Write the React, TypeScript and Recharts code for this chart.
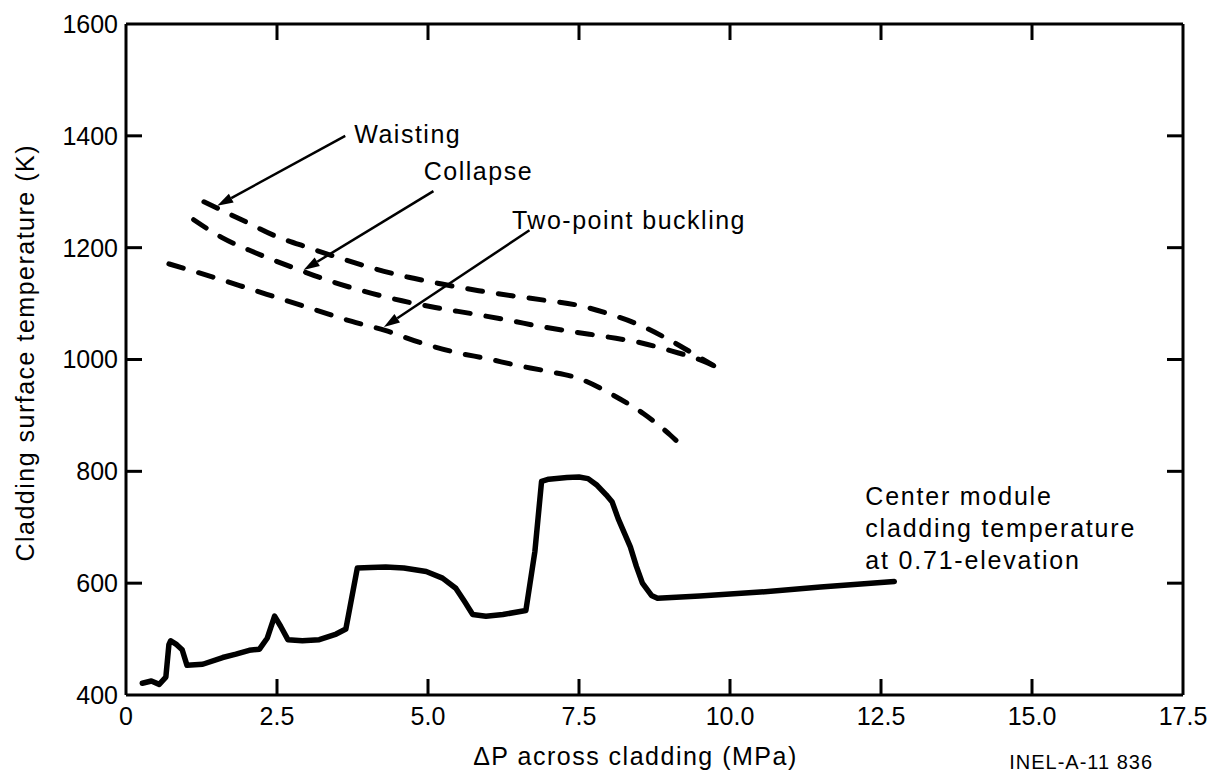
import React from 'react';
import { LineChart, Line, XAxis, YAxis, ReferenceLine, ReferenceDot, Label } from 'recharts';

const FONT = '"Liberation Sans", Arial, Helvetica, sans-serif';

const xTicks = [0, 2.5, 5, 7.5, 10, 12.5, 15, 17.5];
const yTicks = [400, 600, 800, 1000, 1200, 1400, 1600];
const xInner = [2.5, 5, 7.5, 10, 12.5, 15];
const yInner = [600, 800, 1000, 1200, 1400];

// center module cladding temperature, 0.71 elevation (MPa, K)
const centerModule = [
  [0.27, 421], [0.42, 425], [0.55, 419], [0.66, 432], [0.71, 490], [0.74, 497],
  [0.84, 490], [0.93, 481], [1.01, 453], [1.27, 455], [1.6, 467], [1.82, 473],
  [2.04, 480], [2.21, 482], [2.34, 502], [2.46, 541], [2.56, 523], [2.68, 499],
  [2.92, 497], [3.2, 499], [3.48, 509], [3.64, 518], [3.83, 627], [4.05, 628],
  [4.3, 629], [4.6, 627], [4.97, 621], [5.24, 609], [5.46, 591], [5.6, 568],
  [5.74, 544], [5.96, 541], [6.24, 544], [6.62, 551], [6.77, 657], [6.88, 782],
  [7.0, 786], [7.3, 789], [7.5, 790], [7.65, 787], [7.8, 775], [7.95, 758],
  [8.05, 745], [8.15, 715], [8.25, 690], [8.35, 665], [8.45, 630], [8.55, 600],
  [8.7, 578], [8.8, 573], [9.5, 577], [10.5, 584], [11.5, 593], [12.72, 603],
];

const waisting = [
  [1.29, 1282], [1.95, 1248], [2.47, 1221], [3.02, 1200], [3.58, 1180], [4.13, 1162],
  [4.68, 1147], [5.23, 1135], [5.84, 1123], [6.39, 1114], [6.93, 1106], [7.48, 1097],
  [8.04, 1080], [8.52, 1061], [8.98, 1036], [9.54, 1001], [9.73, 989],
];

const collapse = [
  [1.12, 1250], [1.59, 1218], [2.14, 1191], [2.75, 1165], [3.36, 1141], [3.91, 1123],
  [4.57, 1105], [5.12, 1093], [5.78, 1081], [6.34, 1070], [6.92, 1058], [7.44, 1049],
  [7.99, 1040], [8.52, 1030], [9.04, 1015], [9.54, 998], [9.73, 989],
];

const twoPoint = [
  [0.71, 1171], [1.45, 1147], [2.06, 1126], [2.58, 1108], [3.16, 1088], [3.74, 1068],
  [4.29, 1052], [4.85, 1031], [5.45, 1013], [6.0, 1001], [6.45, 990], [6.93, 980],
  [7.5, 966], [8.07, 936], [8.57, 903], [9.01, 865], [9.15, 851],
];

// annotation: label anchor, arrow start, arrow tip
const notes = [
  { text: 'Waisting', at: [3.78, 1404], from: [3.63, 1400], to: [1.51, 1275] },
  { text: 'Collapse', at: [4.93, 1337], from: [5.09, 1301], to: [2.94, 1160] },
  { text: 'Two-point buckling', at: [6.39, 1250], from: [6.68, 1231], to: [4.27, 1058] },
];

const centerLabel = ['Center module', 'cladding temperature', 'at 0.71-elevation'];

const toRows = (pts: number[][]) => pts.map(([x, y]) => ({ x, y }));

const Arrow = (props: any) => {
  const { x1, y1, x2, y2 } = props;
  const dx = x2 - x1;
  const dy = y2 - y1;
  const len = Math.hypot(dx, dy) || 1;
  const ux = dx / len;
  const uy = dy / len;
  const head = 16;
  const hw = 5;
  const bx = x2 - ux * head;
  const by = y2 - uy * head;
  return (
    <g>
      <line x1={x1} y1={y1} x2={bx} y2={by} stroke="#000" strokeWidth={2.5} />
      <polygon
        points={`${x2},${y2} ${bx - uy * hw},${by + ux * hw} ${bx + uy * hw},${by - ux * hw}`}
        fill="#000"
      />
    </g>
  );
};

// short inward tick drawn from a point on the frame
const tickMark = (dx: number, dy: number) => (p: any) => (
  <line x1={p.cx} y1={p.cy} x2={p.cx + dx} y2={p.cy + dy} stroke="#000" strokeWidth={3} />
);

const noteText = (text: string) => (p: any) => (
  <text x={p.cx} y={p.cy} dominantBaseline="central" fontSize={25} letterSpacing={1.5} fontFamily={FONT} fill="#000">
    {text}
  </text>
);

const CenterText = (p: any) => (
  <text x={p.cx} y={p.cy} fontSize={25} letterSpacing={1.8} fontFamily={FONT} fill="#000">
    {centerLabel.map((s, i) => (
      <tspan key={s} x={p.cx} y={p.cy + i * 32} dominantBaseline="central">{s}</tspan>
    ))}
  </text>
);

const XTitle = ({ viewBox }: any) => (
  <g fontFamily={FONT} fill="#000">
    <text x={viewBox.x + viewBox.width * 0.482} y={viewBox.y + 70} textAnchor="middle" fontSize={25} letterSpacing={1.5}>
      ΔP across cladding (MPa)
    </text>
    <text x={viewBox.x + viewBox.width - 30} y={viewBox.y + 74} textAnchor="end" fontSize={20} letterSpacing={1}>
      INEL-A-11 836
    </text>
  </g>
);

const YTitle = ({ viewBox }: any) => {
  const cx = 25;
  const cy = viewBox.y + viewBox.height * 0.49;
  return (
    <text x={cx} y={cy} transform={`rotate(-90, ${cx}, ${cy})`} textAnchor="middle" dominantBaseline="central"
      fontSize={25} letterSpacing={1.5} fontFamily={FONT} fill="#000">
      Cladding surface temperature (K)
    </text>
  );
};

const axisLine = { stroke: '#000', strokeWidth: 3 };
const tickText = { fill: '#000', fontSize: 25, fontFamily: FONT };
const dashed = { stroke: '#000', strokeWidth: 5, strokeDasharray: '15 16', strokeLinecap: 'round' as const };

export default function App() {
  return (
    <div style={{ position: 'absolute', left: 0, top: 0, background: '#fff' }}>
      <LineChart width={1212} height={772} margin={{ top: 24, right: 29, bottom: 0, left: 0 }} style={{ fontFamily: FONT }}>
        <XAxis dataKey="x" type="number" domain={[0, 17.5]} ticks={xTicks} allowDataOverflow
          tickFormatter={(v: number) => (v === 0 ? '0' : v.toFixed(1))}
          height={77} axisLine={axisLine} tickLine={false} tickSize={0} tickMargin={12} tick={tickText}>
          <Label content={XTitle} />
        </XAxis>
        <YAxis type="number" domain={[400, 1600]} ticks={yTicks} width={126}
          axisLine={axisLine} tickLine={false} tickSize={0} tickMargin={8} tick={tickText}>
          <Label content={YTitle} />
        </YAxis>

        {/* frame: top and right edges */}
        <ReferenceLine y={1600} stroke="#000" strokeWidth={3} />
        <ReferenceLine x={17.5} stroke="#000" strokeWidth={3} />

        {/* inward ticks on all four sides */}
        {xInner.map((t) => (
          <ReferenceDot key={'b' + t} x={t} y={400} r={0} shape={tickMark(0, -16)} ifOverflow="visible" />
        ))}
        {xInner.map((t) => (
          <ReferenceDot key={'t' + t} x={t} y={1600} r={0} shape={tickMark(0, 16)} ifOverflow="visible" />
        ))}
        {yInner.map((t) => (
          <ReferenceDot key={'l' + t} x={0} y={t} r={0} shape={tickMark(16, 0)} ifOverflow="visible" />
        ))}
        {yInner.map((t) => (
          <ReferenceDot key={'r' + t} x={17.5} y={t} r={0} shape={tickMark(-16, 0)} ifOverflow="visible" />
        ))}

        <Line data={toRows(waisting)} dataKey="y" type="monotone" {...dashed} dot={false} isAnimationActive={false} />
        <Line data={toRows(collapse)} dataKey="y" type="monotone" {...dashed} dot={false} isAnimationActive={false} />
        <Line data={toRows(twoPoint)} dataKey="y" type="monotone" {...dashed} dot={false} isAnimationActive={false} />
        <Line data={toRows(centerModule)} dataKey="y" type="linear" stroke="#000" strokeWidth={5.5}
          strokeLinejoin="round" strokeLinecap="round" dot={false} isAnimationActive={false} />

        {notes.map((n) => (
          <ReferenceLine key={n.text} segment={[{ x: n.from[0], y: n.from[1] }, { x: n.to[0], y: n.to[1] }]}
            shape={Arrow} ifOverflow="visible" />
        ))}
        {notes.map((n) => (
          <ReferenceDot key={n.text + '-t'} x={n.at[0]} y={n.at[1]} r={0} shape={noteText(n.text)} ifOverflow="visible" />
        ))}
        <ReferenceDot x={12.24} y={755} r={0} shape={CenterText} ifOverflow="visible" />
      </LineChart>
    </div>
  );
}
